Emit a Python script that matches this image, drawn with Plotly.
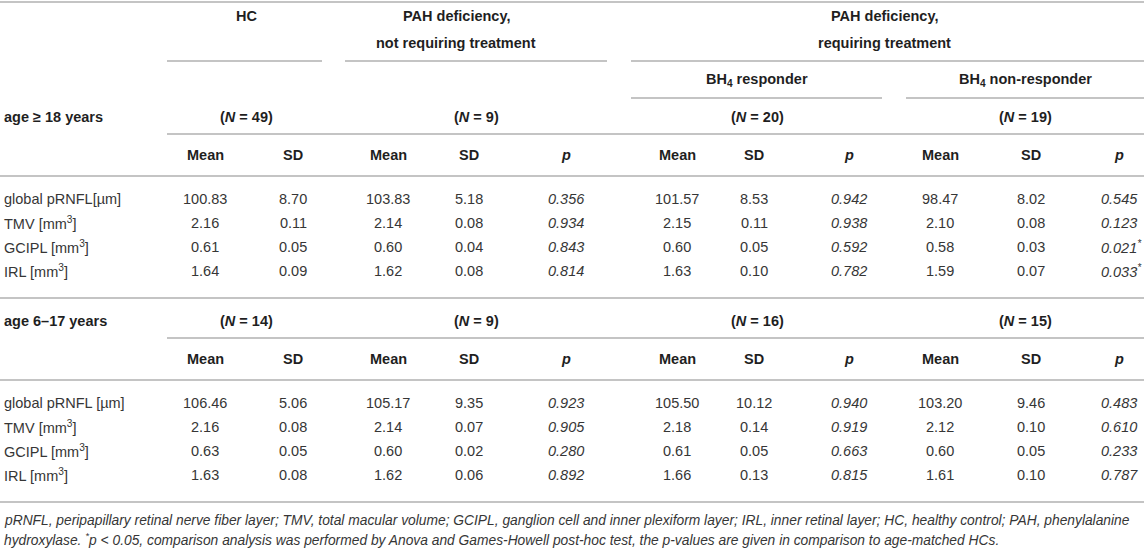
import plotly.graph_objects as go

# ---- table content ----
GROUP_TITLES = ["HC", "PAH deficiency,<br>not requiring treatment", "PAH deficiency,<br>requiring treatment"]
SUB_TITLES = ["BH<sub>4</sub> responder", "BH<sub>4</sub> non-responder"]
SECTION_LABELS = ["age ≥ 18 years", "age 6–17 years"]
COL_HEADERS = ["Mean", "SD", "Mean", "SD", "p", "Mean", "SD", "p", "Mean", "SD", "p"]

ROW_LABELS_ADULT = ["global pRNFL[µm]", "TMV [mm<sup>3</sup>]", "GCIPL [mm<sup>3</sup>]", "IRL [mm<sup>3</sup>]"]
ROW_LABELS_CHILD = ["global pRNFL [µm]", "TMV [mm<sup>3</sup>]", "GCIPL [mm<sup>3</sup>]", "IRL [mm<sup>3</sup>]"]

N_ADULT = [49, 9, 20, 19]
N_CHILD = [14, 9, 16, 15]

# age >= 18
HC_MEAN_ADULT = [100.83, 2.16, 0.61, 1.64]
HC_SD_ADULT = [8.70, 0.11, 0.05, 0.09]
NR_MEAN_ADULT = [103.83, 2.14, 0.60, 1.62]
NR_SD_ADULT = [5.18, 0.08, 0.04, 0.08]
NR_P_ADULT = [0.356, 0.934, 0.843, 0.814]
RESP_MEAN_ADULT = [101.57, 2.15, 0.60, 1.63]
RESP_SD_ADULT = [8.53, 0.11, 0.05, 0.10]
RESP_P_ADULT = [0.942, 0.938, 0.592, 0.782]
NONRESP_MEAN_ADULT = [98.47, 2.10, 0.58, 1.59]
NONRESP_SD_ADULT = [8.02, 0.08, 0.03, 0.07]
NONRESP_P_ADULT = [0.545, 0.123, 0.021, 0.033]

# age 6-17
HC_MEAN_CHILD = [106.46, 2.16, 0.63, 1.63]
HC_SD_CHILD = [5.06, 0.08, 0.05, 0.08]
NR_MEAN_CHILD = [105.17, 2.14, 0.60, 1.62]
NR_SD_CHILD = [9.35, 0.07, 0.02, 0.06]
NR_P_CHILD = [0.923, 0.905, 0.280, 0.892]
RESP_MEAN_CHILD = [105.50, 2.18, 0.61, 1.66]
RESP_SD_CHILD = [10.12, 0.14, 0.05, 0.13]
RESP_P_CHILD = [0.940, 0.919, 0.663, 0.815]
NONRESP_MEAN_CHILD = [103.20, 2.12, 0.60, 1.61]
NONRESP_SD_CHILD = [9.46, 0.10, 0.05, 0.10]
NONRESP_P_CHILD = [0.483, 0.610, 0.233, 0.787]

FOOTNOTE = [
    "pRNFL, peripapillary retinal nerve fiber layer; TMV, total macular volume; GCIPL, ganglion cell and inner "
    "plexiform layer; IRL, inner retinal layer; HC, healthy control; PAH, phenylalanine",
    "hydroxylase. <sup>*</sup>p < 0.05, comparison analysis was performed by Anova and Games-Howell post-hoc test, "
    "the p-values are given in comparison to age-matched HCs.",
]

# ---- layout (pixel grid) ----
W, H = 1144, 551
FONT = "Liberation Sans, Arial, sans-serif"
HEAD = "#1f1f1f"
TXT = "#363636"
RULE = "#c4c4c4"
FS = 14.5

COL_X = [205, 293, 388, 469, 566, 677, 754, 849, 940, 1031, 1119]
GROUP_X = [246, 456, 884]
SUB_X = [757, 1025]
N_X = [246, 476, 757, 1025]
GROUP_SPANS = [(167, 322), (345, 607), (631, 1144)]
SUB_SPANS = [(631, 882), (906, 1144)]

sections = [
    dict(label=SECTION_LABELS[0], n=N_ADULT, rows=ROW_LABELS_ADULT,
         cols=[HC_MEAN_ADULT, HC_SD_ADULT, NR_MEAN_ADULT, NR_SD_ADULT, NR_P_ADULT,
               RESP_MEAN_ADULT, RESP_SD_ADULT, RESP_P_ADULT,
               NONRESP_MEAN_ADULT, NONRESP_SD_ADULT, NONRESP_P_ADULT],
         y0=117),
    dict(label=SECTION_LABELS[1], n=N_CHILD, rows=ROW_LABELS_CHILD,
         cols=[HC_MEAN_CHILD, HC_SD_CHILD, NR_MEAN_CHILD, NR_SD_CHILD, NR_P_CHILD,
               RESP_MEAN_CHILD, RESP_SD_CHILD, RESP_P_CHILD,
               NONRESP_MEAN_CHILD, NONRESP_SD_CHILD, NONRESP_P_CHILD],
         y0=321),
]
P_COLS = {4, 7, 10}
ROW_STEP = 24
GHOST = '<span style="color:rgba(0,0,0,0)"><sup>*</sup></span>'

fig = go.Figure()
ann = []
shapes = []


def text(x, y, s, bold=False, italic=False, anchor="center", size=FS, color=TXT):
    if bold:
        s = f"<b>{s}</b>"
    if italic:
        s = f"<i>{s}</i>"
    ann.append(dict(x=x, y=y, xref="x", yref="y", text=s, showarrow=False,
                    xanchor=anchor, yanchor="middle", align="center",
                    font=dict(family=FONT, size=size, color=color)))


def rule(x0, x1, y):
    shapes.append(dict(type="line", xref="x", yref="y", x0=x0, x1=x1, y0=y, y1=y,
                       line=dict(color=RULE, width=2)))


# header block
rule(0, W, 2)
for gx, title in zip(GROUP_X, GROUP_TITLES):
    for k, line in enumerate(title.split("<br>")):
        text(gx, 16 + k * 27, line, bold=True, color=HEAD)
for x0, x1 in GROUP_SPANS:
    rule(x0, x1, 61)
for sx, st in zip(SUB_X, SUB_TITLES):
    text(sx, 80, st, bold=True, color=HEAD)
for x0, x1 in SUB_SPANS:
    rule(x0, x1, 98)

for sec in sections:
    y = sec["y0"]
    text(2, y, sec["label"], bold=True, anchor="left", color=HEAD)
    for nx, n in zip(N_X, sec["n"]):
        text(nx, y, f"(<i>N</i> = {n})", bold=True, color=HEAD)
    rule(167, W, y + 17)
    for cx, h in zip(COL_X, COL_HEADERS):
        text(cx, y + 38, h, bold=True, italic=(h == "p"), color=HEAD)
    rule(0, W, y + 59)
    for i, lab in enumerate(sec["rows"]):
        ry = y + 82 + i * ROW_STEP
        text(2, ry, lab, anchor="left")
        for j, (cx, vals) in enumerate(zip(COL_X, sec["cols"])):
            v = vals[i]
            if j in P_COLS:
                s = f"{v:.3f}"
                if v < 0.05:
                    # keep the number centred, let the asterisk hang to the right
                    s = GHOST + s + "<sup>*</sup>"
                text(cx, ry, s, italic=True)
            else:
                text(cx, ry, f"{v:.2f}")
    rule(0, W, y + 82 + 3 * ROW_STEP + 27)

for k, line in enumerate(FOOTNOTE):
    text(2, 520 + k * 18.5, line, italic=True, anchor="left", size=13.8)

fig.update_layout(
    width=W, height=H,
    margin=dict(l=0, r=0, t=0, b=0),
    paper_bgcolor="white", plot_bgcolor="white",
    xaxis=dict(range=[0, W], visible=False, fixedrange=True),
    yaxis=dict(range=[H, 0], visible=False, fixedrange=True),
    annotations=ann, shapes=shapes, showlegend=False,
)

fig.write_html("out.html", config={"displayModeBar": False},
               post_script="document.body.style.margin='0';document.body.style.overflow='hidden';")
